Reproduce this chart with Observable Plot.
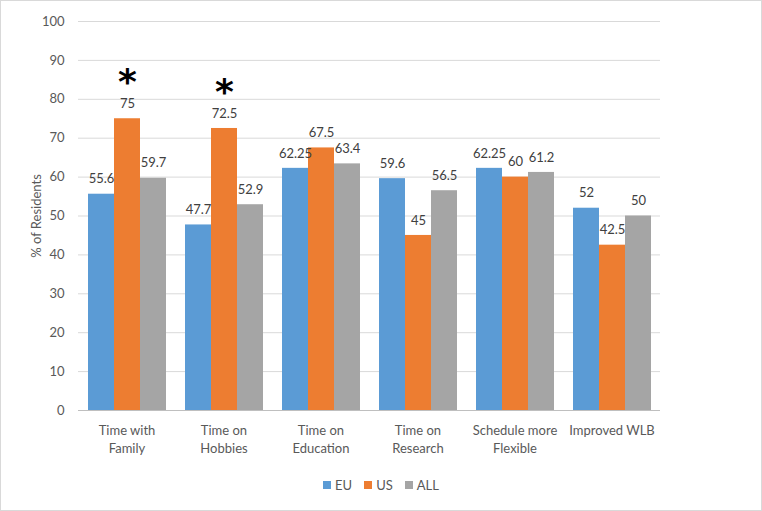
<!DOCTYPE html>
<html>
<head>
<meta charset="utf-8">
<script src="https://cdn.jsdelivr.net/npm/d3@7"></script>
<script src="https://cdn.jsdelivr.net/npm/@observablehq/plot@0.6"></script>
<style>
  html, body { margin: 0; padding: 0; background: #fff; }
  #frame { position: relative; width: 760px; height: 509px; border: 1px solid #d9d9d9; font-family: Lato, "Liberation Sans", sans-serif; color: #595959; overflow: hidden; }
  #legend { position: absolute; left: 0; right: 0; top: 476px; display: flex; justify-content: center; gap: 12px; font-size: 13px; }
  #legend span { display: inline-flex; align-items: center; gap: 4px; }
  #legend i { display: inline-block; width: 8px; height: 8px; }
</style>
</head>
<body>
<div id="frame"><div id="chart"></div><div id="legend"></div></div>
<script>
const categories = ["Time with Family", "Time on Hobbies", "Time on Education", "Time on Research", "Schedule more Flexible", "Improved WLB"];
const tickLabels = ["Time with\nFamily", "Time on\nHobbies", "Time on\nEducation", "Time on\nResearch", "Schedule more\nFlexible", "Improved WLB"];
const series = ["EU", "US", "ALL"];
const euValues = [55.6, 47.7, 62.25, 59.6, 62.25, 52];
const usValues = [75, 72.5, 67.5, 45, 60, 42.5];
const allValues = [59.7, 52.9, 63.4, 56.5, 61.2, 50];
const significant = ["Time with Family", "Time on Hobbies"];
const colors = ["#5B9BD5", "#ED7D31", "#A5A5A5"];
const yTicks = [0, 10, 20, 30, 40, 50, 60, 70, 80, 90, 100];

const valuesBySeries = {EU: euValues, US: usValues, ALL: allValues};
const data = [];
categories.forEach((c, i) => series.forEach(s => data.push({category: c, series: s, value: valuesBySeries[s][i]})));
const fxDomain = [...categories, " "];
const fmt = d => { const i = categories.indexOf(d); return i < 0 ? "" : tickLabels[i]; };

const chart = Plot.plot({
  width: 760,
  height: 460,
  marginLeft: 76,
  marginRight: 4,
  marginTop: 20,
  marginBottom: 51,
  style: {fontFamily: 'Lato, "Liberation Sans", sans-serif', fontSize: "13px", color: "#595959", background: "transparent"},
  fx: {domain: fxDomain, padding: 0, label: null},
  x: {domain: series, paddingInner: 0, paddingOuter: 0.3, axis: null},
  y: {domain: [0, 100], axis: null},
  color: {domain: series, range: colors},
  marks: [
    Plot.gridY(yTicks, {stroke: "#d9d9d9", strokeOpacity: 1}),
    Plot.ruleY([0], {stroke: "#bfbfbf"}),
    Plot.axisY({ticks: yTicks, tickSize: 0, tickPadding: 14, label: "% of Residents", labelAnchor: "center", labelArrow: "none", labelOffset: 47}),
    Plot.axisFx({anchor: "bottom", tickSize: 0, tickPadding: 12, label: null, tickFormat: fmt, lineHeight: 1.38}),
    Plot.barY(data, {fx: "category", x: "series", y: "value", fill: "series"}),
    Plot.text(data, {fx: "category", x: "series", y: "value", text: d => String(d.value), dy: -15, fill: "#404040"}),
    Plot.text(significant, {fx: d => d, x: () => "US", y: d => usValues[categories.indexOf(d)], text: () => "*", dy: -36, fontSize: 36, fontWeight: "bold", fontFamily: "DejaVu Sans", fill: "#000"})
  ]
});
document.getElementById("chart").appendChild(chart);

const legend = document.getElementById("legend");
series.forEach((s, i) => {
  const el = document.createElement("span");
  el.innerHTML = `<i style="background:${colors[i]}"></i>${s}`;
  legend.appendChild(el);
});
</script>
</body>
</html>
